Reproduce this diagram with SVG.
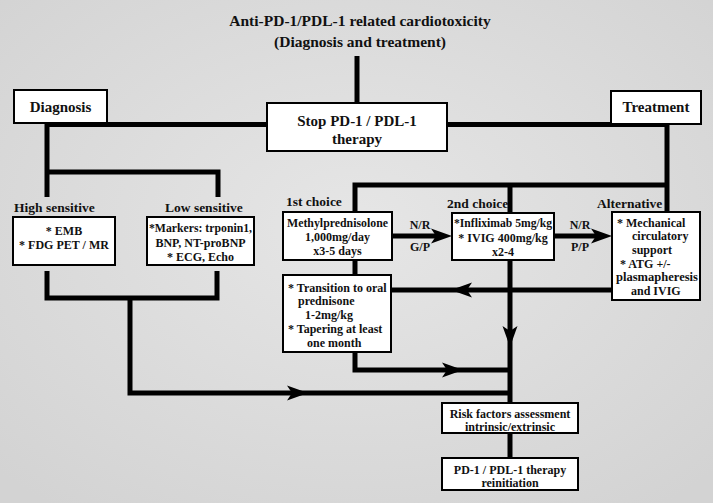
<svg xmlns="http://www.w3.org/2000/svg" width="713" height="503" viewBox="0 0 713 503">
<defs>
<radialGradient id="bg" cx="50%" cy="45%" r="70%">
<stop offset="0" stop-color="#e6e6e6"/>
<stop offset="1" stop-color="#d3d3d3"/>
</radialGradient>
<path id="ah" d="M0,0 L-21,-7.5 L-16,0 L-21,7.5 Z" fill="#000"/>
<style>
.box{fill:#fff;stroke:#000;stroke-width:2}
.ln{fill:none;stroke:#000;stroke-width:5}
text{font-family:"Liberation Serif","Times New Roman",serif;font-weight:bold;fill:#111}
.t{font-size:15.5px;text-anchor:middle}
.h{font-size:15px;text-anchor:middle}
.lab{font-size:13.5px}
.b{font-size:12px;text-anchor:middle}
.bs{font-size:12px}
</style>
</defs>
<rect width="713" height="503" fill="url(#bg)"/>

<g id="title">
<text class="t" x="360" y="26">Anti-PD-1/PDL-1 related cardiotoxicity</text>
<text class="t" x="360" y="47">(Diagnosis and treatment)</text>
</g>

<g id="connectors">
<path class="ln" d="M357,56 V103"/>
<path class="ln" d="M267,124.5 H47 V197"/>
<path class="ln" d="M447,124.5 H667 V212"/>
<path class="ln" d="M47,172 H218 V197"/>
<path class="ln" d="M47,271 V298 H217 V271"/>
<path class="ln" d="M130,298 V393 H510"/>
<path class="ln" d="M355,212 V185 H667"/>
<path class="ln" d="M510,185 V213"/>
<path class="ln" d="M392,236 H438"/>
<use href="#ah" transform="translate(452,236)"/>
<path class="ln" d="M554,236 H598"/>
<use href="#ah" transform="translate(612,236)"/>
<path class="ln" d="M355,260 V275"/>
<path class="ln" d="M612,290 H391"/>
<path class="ln" d="M510,260 V403"/>
<path class="ln" d="M355,352 V370 H510"/>
<path class="ln" d="M510,433 V458"/>
<use href="#ah" transform="translate(308,393)"/>
<use href="#ah" transform="translate(451,290) rotate(180)"/>
<use href="#ah" transform="translate(510,347) rotate(90)"/>
<use href="#ah" transform="translate(463,370)"/>
</g>

<g id="diagnosis">
<rect class="box" x="14" y="90" width="93" height="33"/>
<text class="h" x="60.5" y="112">Diagnosis</text>
</g>

<g id="stop">
<rect class="box" x="267" y="103" width="180" height="48"/>
<text class="h" x="357" y="126">Stop PD-1 / PDL-1</text>
<text class="h" x="357" y="144">therapy</text>
</g>

<g id="treatment">
<rect class="box" x="611" y="91" width="90" height="33"/>
<text class="h" x="656" y="112">Treatment</text>
</g>

<g id="high">
<text class="lab" x="14" y="212">High sensitive</text>
<rect class="box" x="13" y="217" width="102" height="48"/>
<text class="b" x="64" y="235">* EMB</text>
<text class="b" x="64" y="249">* FDG PET / MR</text>
</g>

<g id="low">
<text class="lab" x="165" y="212">Low sensitive</text>
<rect class="box" x="147" y="217" width="107" height="48"/>
<text class="b" x="200.5" y="232" textLength="103" lengthAdjust="spacingAndGlyphs">*Markers: trponin1,</text>
<text class="b" x="200.5" y="247">BNP, NT-proBNP</text>
<text class="b" x="200.5" y="261">* ECG, Echo</text>
</g>

<g id="first">
<text class="lab" x="286" y="206">1st choice</text>
<rect class="box" x="283" y="212" width="109" height="48"/>
<text class="b" x="337.5" y="227" textLength="101" lengthAdjust="spacingAndGlyphs">Methylprednisolone</text>
<text class="b" x="337.5" y="241">1,000mg/day</text>
<text class="b" x="337.5" y="255">x3-5 days</text>
</g>

<g id="labels1">
<text class="b" x="420" y="229">N/R</text>
<text class="b" x="420" y="251">G/P</text>
<text class="b" x="580" y="229">N/R</text>
<text class="b" x="580" y="251">P/P</text>
</g>

<g id="second">
<text class="lab" x="447" y="208">2nd choice</text>
<rect class="box" x="452" y="213" width="102" height="47"/>
<text class="b" x="503" y="227" textLength="98" lengthAdjust="spacingAndGlyphs">*Infliximab 5mg/kg</text>
<text class="b" x="503" y="242">* IVIG 400mg/kg</text>
<text class="b" x="503" y="256">x2-4</text>
</g>

<g id="alternative">
<text class="lab" x="597" y="208">Alternative</text>
<rect class="box" x="612" y="212" width="88" height="88"/>
<text class="bs" x="617" y="227">* Mechanical</text>
<text class="bs" x="632" y="240">circulatory</text>
<text class="bs" x="632" y="254">support</text>
<text class="bs" x="620" y="268">* ATG +/-</text>
<text class="bs" x="616" y="281" textLength="82" lengthAdjust="spacingAndGlyphs">plasmapheresis</text>
<text class="bs" x="631" y="295">and IVIG</text>
</g>

<g id="transition">
<rect class="box" x="283" y="275" width="108" height="77"/>
<text class="bs" x="288" y="292">* Transition to oral</text>
<text class="bs" x="298" y="305">prednisone</text>
<text class="bs" x="305" y="319">1-2mg/kg</text>
<text class="bs" x="288" y="333">* Tapering at least</text>
<text class="bs" x="307" y="347">one month</text>
</g>

<g id="risk">
<rect class="box" x="442" y="403" width="136" height="30"/>
<text class="b" x="510" y="418">Risk factors assessment</text>
<text class="b" x="510" y="431">intrinsic/extrinsic</text>
</g>

<g id="reinit">
<rect class="box" x="442" y="458" width="136" height="32"/>
<text class="b" x="510" y="474">PD-1 / PDL-1 therapy</text>
<text class="b" x="510" y="487">reinitiation</text>
</g>
</svg>
